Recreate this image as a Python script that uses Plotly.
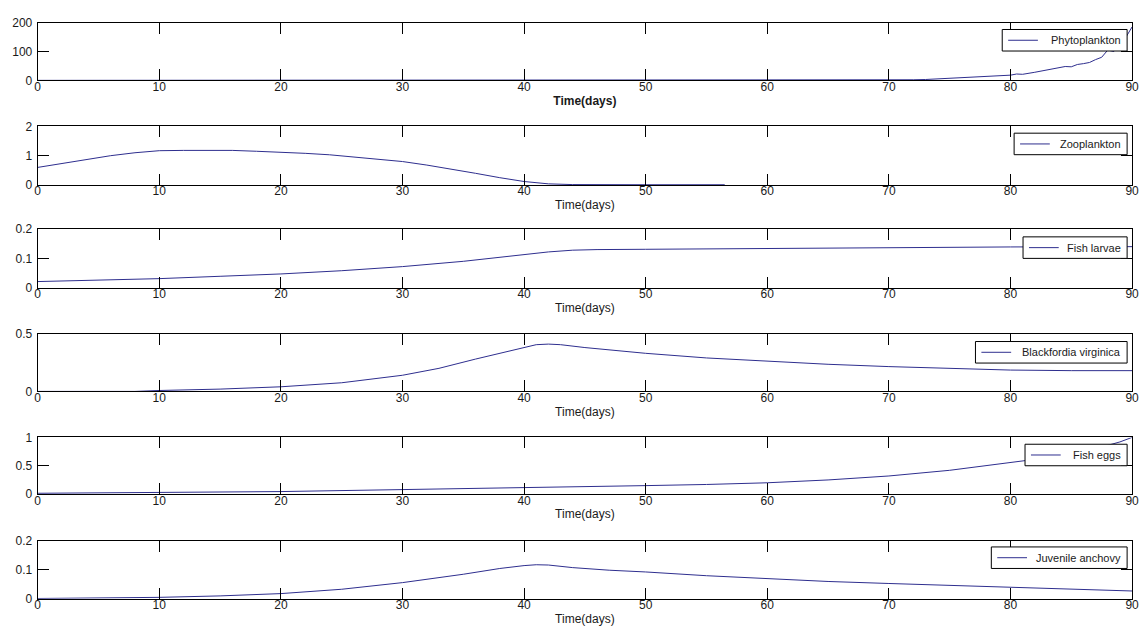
import plotly.graph_objects as go

# ---- model output (time in days) ----
days_phyto = [0, 70, 71, 72, 73, 74, 75, 76, 77, 78, 79, 80, 80.5, 81, 82, 82.5, 83, 83.5,
              84, 84.5, 85, 85.5, 86, 86.5, 87, 87.5, 88, 88.5, 89, 89.5, 90]
phyto = [0, 0, 1, 2, 3, 5, 6, 8, 10, 12, 15, 18, 22, 21, 28, 32, 35, 40,
         44, 48, 47, 55, 58, 62, 72, 80, 105, 100, 125, 150, 185]

days_zoo = [0, 2, 4, 6, 8, 10, 12, 14, 16, 18, 20, 22, 24, 26, 28, 30, 32, 34, 36, 38,
            40, 42, 44, 50, 56.5]
zoo = [0.6, 0.74, 0.88, 1.0, 1.1, 1.17, 1.18, 1.18, 1.18, 1.15, 1.12, 1.08, 1.03, 0.96,
       0.88, 0.8, 0.68, 0.55, 0.4, 0.25, 0.12, 0.04, 0.015, 0.01, 0.01]

days_larvae = [0, 5, 10, 15, 20, 25, 30, 35, 38, 40, 42, 44, 46, 50, 60, 70, 80, 90]
larvae = [0.021, 0.025, 0.031, 0.039, 0.047, 0.058, 0.072, 0.09, 0.103, 0.112, 0.122,
          0.128, 0.13, 0.131, 0.134, 0.137, 0.139, 0.14]

days_blackfordia = [0, 8, 10, 15, 20, 25, 30, 33, 36, 38, 40, 41, 42, 43, 45, 50, 55, 60,
                    65, 70, 75, 80, 85, 90]
blackfordia = [0, 0, 0.008, 0.02, 0.04, 0.075, 0.14, 0.2, 0.28, 0.33, 0.38, 0.405, 0.41,
               0.405, 0.38, 0.33, 0.29, 0.26, 0.235, 0.215, 0.2, 0.185, 0.18, 0.18]

days_eggs = [0, 10, 20, 30, 40, 50, 55, 60, 65, 70, 75, 80, 83, 85, 87, 89, 90]
eggs = [0.015, 0.025, 0.045, 0.08, 0.11, 0.15, 0.17, 0.2, 0.25, 0.32, 0.42, 0.56, 0.64,
        0.71, 0.8, 0.92, 1.0]

days_anchovy = [0, 5, 10, 15, 20, 25, 30, 35, 38, 40, 41, 42, 44, 47, 50, 55, 60, 65, 70,
                75, 80, 85, 90]
anchovy = [0.001, 0.002, 0.005, 0.01, 0.018, 0.033, 0.056, 0.085, 0.105, 0.115, 0.118,
           0.117, 0.108, 0.099, 0.093, 0.08, 0.069, 0.06, 0.053, 0.046, 0.04, 0.033, 0.027]

names = ["Phytoplankton", "Zooplankton", "Fish larvae", "Blackfordia virginica",
         "Fish eggs", "Juvenile anchovy"]
xs = [days_phyto, days_zoo, days_larvae, days_blackfordia, days_eggs, days_anchovy]
ys = [phyto, zoo, larvae, blackfordia, eggs, anchovy]
y_ranges = [[0, 200], [0, 2], [0, 0.2], [0, 0.5], [0, 1], [0, 0.2]]
y_ticks = [[0, 100, 200], [0, 1, 2], [0, 0.1, 0.2], [0, 0.5], [0, 0.5, 1], [0, 0.1, 0.2]]
y_ticktext = [["0", "100", "200"], ["0", "1", "2"], ["0", "0.1", "0.2"], ["0", "0.5"],
              ["0", "0.5", "1"], ["0", "0.1", "0.2"]]
x_ticks = list(range(0, 91, 10))

W, H = 1148, 641
# panel edges in pixels (top, bottom)
panels = [(16, 75), (122, 182), (227, 287), (334, 393), (440, 498), (546, 605)]
left_px, right_px = 35, 1139
# legend boxes in pixels (left, top, bottom); all share the same right edge
legend_boxes = [(1008, 23, 45), (1020, 129, 151), (1029, 235, 257),
                (981, 342, 364), (1031, 447, 469), (997, 552, 574)]
legend_right = 1134

LINE = "#2e2e8e"
FONT = "Arial, Liberation Sans, sans-serif"


def px_x(v):
    return v / W


def px_y(v):
    return 1 - v / H


fig = go.Figure()
layout = dict(
    width=W, height=H, autosize=False,
    margin=dict(l=0, r=0, t=0, b=0),
    paper_bgcolor="white", plot_bgcolor="white",
    font=dict(family=FONT, size=12, color="#1a1a1a"),
    showlegend=False,
)
shapes, annotations = [], []

for i in range(6):
    n = i + 1
    xa = "x" if n == 1 else f"x{n}"
    ya = "y" if n == 1 else f"y{n}"
    fig.add_trace(go.Scatter(
        x=xs[i], y=ys[i], mode="lines", name=names[i],
        line=dict(color=LINE, width=1),
        xaxis=xa, yaxis=ya,
    ))
    top, bot = panels[i]
    title_text = "<b>Time(days)</b>" if i == 0 else "Time(days)"
    layout["xaxis" if n == 1 else f"xaxis{n}"] = dict(
        domain=[px_x(left_px), px_x(right_px)],
        range=[0, 90], tickvals=x_ticks,
        ticks="inside", ticklen=11, tickcolor="black", tickwidth=1,
        showline=True, linecolor="black", linewidth=1, mirror="allticks",
        showgrid=False, zeroline=False, anchor=ya,
        ticklabelstandoff=-5,
        title=dict(text=title_text, standoff=3, font=dict(size=12)),
    )
    layout["yaxis" if n == 1 else f"yaxis{n}"] = dict(
        domain=[px_y(bot), px_y(top)],
        range=y_ranges[i], tickvals=y_ticks[i], ticktext=y_ticktext[i],
        ticks="inside", ticklen=11, tickcolor="black", tickwidth=1,
        showline=True, linecolor="black", linewidth=1, mirror="allticks",
        showgrid=False, zeroline=False, anchor=xa,
        ticklabelstandoff=2,
    )

    # legend box: frame, line sample, label
    lx, ltop, lbot = legend_boxes[i]
    mid = (ltop + lbot) / 2
    shapes.append(dict(
        type="rect", xref="paper", yref="paper",
        x0=px_x(lx), x1=px_x(legend_right), y0=px_y(lbot), y1=px_y(ltop),
        line=dict(color="black", width=1), fillcolor="white", layer="above",
    ))
    shapes.append(dict(
        type="line", xref="paper", yref="paper",
        x0=px_x(lx + 6), x1=px_x(lx + 36), y0=px_y(mid), y1=px_y(mid),
        line=dict(color=LINE, width=1), layer="above",
    ))
    annotations.append(dict(
        text=names[i], xref="paper", yref="paper",
        x=px_x(legend_right - 4), y=px_y(mid), xanchor="right", yanchor="middle",
        showarrow=False, font=dict(family=FONT, size=11, color="#1a1a1a"),
    ))

layout["shapes"] = shapes
layout["annotations"] = annotations
fig.update_layout(**layout)
fig.write_html("out.html")
